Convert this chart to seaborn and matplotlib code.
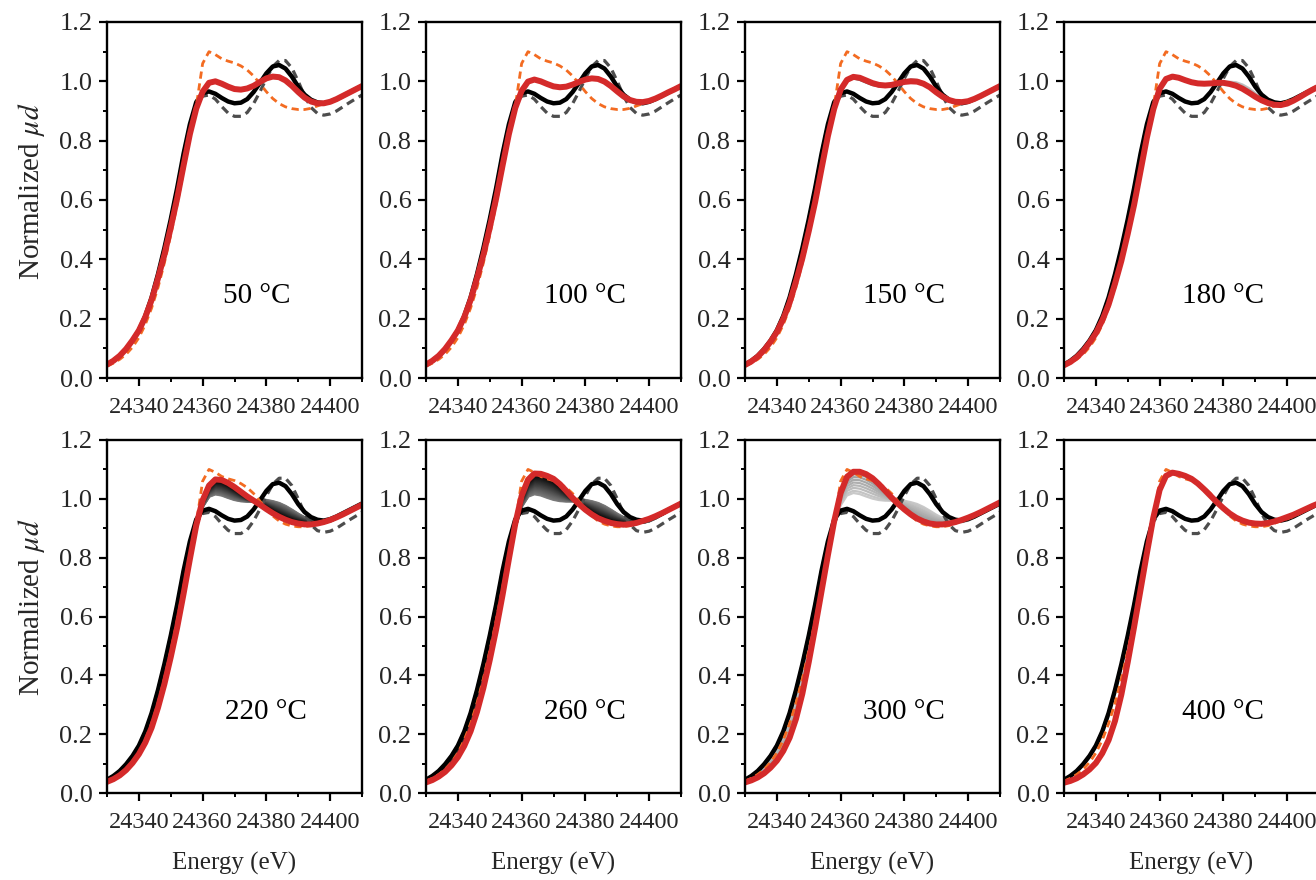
import numpy as np
import pandas as pd
import matplotlib
matplotlib.use("Agg")
import matplotlib.pyplot as plt
import seaborn as sns
from matplotlib.ticker import MultipleLocator, FormatStrFormatter

# ---------------- data ----------------
ENERGY = [24330, 24332, 24334, 24336, 24338, 24340, 24342, 24344, 24346, 24348,
          24350, 24352, 24354, 24356, 24358, 24360, 24362, 24364, 24366, 24368,
          24370, 24372, 24374, 24376, 24378, 24380, 24382, 24384, 24386, 24388,
          24390, 24392, 24394, 24396, 24398, 24400, 24402, 24404, 24406, 24408,
          24410]

BLACK_REF = [0.045, 0.058, 0.075, 0.098, 0.126, 0.161, 0.209, 0.272, 0.350, 0.438,
             0.535, 0.640, 0.755, 0.855, 0.930, 0.960, 0.966, 0.958, 0.944, 0.932,
             0.926, 0.928, 0.940, 0.964, 0.995, 1.027, 1.050, 1.055, 1.043, 1.016,
             0.982, 0.955, 0.938, 0.929, 0.926, 0.931, 0.940, 0.951, 0.962, 0.973,
             0.984]

GRAY_REF = [0.045, 0.058, 0.075, 0.098, 0.126, 0.161, 0.209, 0.272, 0.350, 0.438,
            0.535, 0.640, 0.755, 0.855, 0.922, 0.950, 0.954, 0.940, 0.915, 0.893,
            0.882, 0.882, 0.895, 0.925, 0.965, 1.010, 1.050, 1.070, 1.070, 1.045,
            1.000, 0.950, 0.912, 0.892, 0.886, 0.890, 0.900, 0.914, 0.928, 0.941,
            0.954]

ORANGE_REF = [0.040, 0.050, 0.063, 0.080, 0.104, 0.136, 0.180, 0.236, 0.305, 0.388,
              0.482, 0.585, 0.697, 0.810, 0.915, 1.060, 1.100, 1.090, 1.076, 1.068,
              1.062, 1.052, 1.038, 1.018, 0.992, 0.965, 0.942, 0.925, 0.914, 0.908,
              0.905, 0.905, 0.909, 0.917, 0.925, 0.932, 0.940, 0.951, 0.962, 0.973,
              0.984]

RED_50 = [0.045, 0.058, 0.075, 0.098, 0.127, 0.160, 0.205, 0.263, 0.336, 0.415,
          0.507, 0.605, 0.715, 0.822, 0.908, 0.965, 0.995, 1.000, 0.992, 0.982,
          0.974, 0.972, 0.976, 0.985, 0.998, 1.010, 1.016, 1.014, 1.003, 0.985,
          0.964, 0.945, 0.932, 0.926, 0.926, 0.931, 0.940, 0.951, 0.962, 0.973,
          0.984]

RED_100 = [0.045, 0.058, 0.075, 0.098, 0.127, 0.160, 0.205, 0.263, 0.336, 0.415,
           0.507, 0.605, 0.715, 0.822, 0.910, 0.968, 0.999, 1.006, 1.000, 0.991,
           0.983, 0.980, 0.982, 0.989, 0.998, 1.006, 1.010, 1.008, 0.999, 0.984,
           0.966, 0.949, 0.937, 0.931, 0.930, 0.934, 0.942, 0.952, 0.963, 0.973,
           0.984]

RED_150 = [0.044, 0.056, 0.072, 0.094, 0.122, 0.155, 0.199, 0.254, 0.326, 0.404,
           0.495, 0.593, 0.705, 0.815, 0.907, 0.972, 1.005, 1.015, 1.012, 1.003,
           0.994, 0.988, 0.986, 0.988, 0.993, 0.998, 1.000, 0.999, 0.992, 0.980,
           0.963, 0.948, 0.937, 0.931, 0.930, 0.933, 0.941, 0.951, 0.962, 0.973,
           0.984]

RED_180 = [0.043, 0.054, 0.070, 0.091, 0.119, 0.151, 0.194, 0.248, 0.318, 0.395,
           0.486, 0.584, 0.697, 0.810, 0.906, 0.975, 1.008, 1.016, 1.012, 1.004,
           0.997, 0.993, 0.992, 0.993, 0.995, 0.995, 0.991, 0.985, 0.975, 0.962,
           0.948, 0.936, 0.927, 0.921, 0.920, 0.925, 0.935, 0.947, 0.960, 0.972,
           0.983]

RED_220 = [0.038, 0.047, 0.060, 0.078, 0.102, 0.132, 0.171, 0.222, 0.290, 0.370,
           0.462, 0.562, 0.676, 0.795, 0.910, 0.995, 1.045, 1.066, 1.064, 1.054,
           1.040, 1.024, 1.008, 0.994, 0.980, 0.965, 0.951, 0.939, 0.929, 0.921,
           0.916, 0.913, 0.913, 0.916, 0.921, 0.928, 0.937, 0.947, 0.958, 0.969,
           0.980]

RED_260 = [0.036, 0.044, 0.056, 0.072, 0.094, 0.122, 0.160, 0.210, 0.276, 0.357,
           0.452, 0.556, 0.672, 0.795, 0.915, 1.010, 1.065, 1.086, 1.085, 1.078,
           1.068, 1.050, 1.027, 1.003, 0.982, 0.963, 0.947, 0.934, 0.925, 0.918,
           0.914, 0.912, 0.914, 0.918, 0.925, 0.932, 0.941, 0.951, 0.962, 0.973,
           0.984]

RED_300 = [0.036, 0.043, 0.053, 0.067, 0.086, 0.110, 0.143, 0.188, 0.252, 0.338,
           0.445, 0.562, 0.685, 0.808, 0.925, 1.020, 1.075, 1.092, 1.092, 1.084,
           1.070, 1.050, 1.027, 1.004, 0.983, 0.964, 0.947, 0.933, 0.923, 0.916,
           0.913, 0.913, 0.916, 0.921, 0.928, 0.936, 0.945, 0.955, 0.966, 0.977,
           0.988]

RED_400 = [0.035, 0.041, 0.050, 0.063, 0.080, 0.102, 0.135, 0.180, 0.245, 0.335,
           0.445, 0.565, 0.690, 0.815, 0.935, 1.030, 1.078, 1.089, 1.085, 1.078,
           1.068, 1.052, 1.032, 1.010, 0.988, 0.968, 0.950, 0.936, 0.926, 0.919,
           0.916, 0.915, 0.918, 0.923, 0.930, 0.938, 0.946, 0.956, 0.966, 0.976,
           0.985]

TEMP_LABELS = ["50 °C", "100 °C", "150 °C", "180 °C",
               "220 °C", "260 °C", "300 °C", "400 °C"]

# converted fraction of each intermediate in-situ scan (start -> final spectrum)
F150 = [0.35, 0.70]
F180 = [0.15, 0.35, 0.55, 0.75, 0.90]
F220 = [0.02, 0.05, 0.08, 0.11, 0.14, 0.17, 0.20, 0.24, 0.28, 0.32, 0.36, 0.40,
        0.44, 0.48, 0.52, 0.56, 0.60, 0.64, 0.68, 0.72, 0.76, 0.80, 0.84, 0.88,
        0.92, 0.96]
F260 = [0.02, 0.05, 0.08, 0.11, 0.14, 0.17, 0.20, 0.24, 0.28, 0.32, 0.36, 0.40,
        0.44, 0.48, 0.52, 0.56, 0.60, 0.64, 0.68, 0.72, 0.76, 0.80, 0.84, 0.88,
        0.92, 0.96]
F300 = [0.05, 0.15, 0.28, 0.40, 0.52, 0.64, 0.76, 0.88]

PANELS = [
    (RED_50, None, [], "light"),
    (RED_100, None, [], "light"),
    (RED_150, RED_100, F150, "mid"),
    (RED_180, RED_150, F180, "light"),
    (RED_220, RED_180, F220, "dark"),
    (RED_260, RED_180, F260, "dark"),
    (RED_300, RED_180, F300, "light"),
    (RED_400, None, [], "light"),
]

# ---------------- style ----------------
sns.set_theme(style="ticks")
plt.rcParams['font.family'] = ['Liberation Serif', 'DejaVu Serif']
plt.rcParams['mathtext.fontset'] = 'stix'

W, H = 1316, 880
fig = plt.figure(figsize=(W / 100, H / 100), dpi=100)

col_left = [107, 426, 745, 1064]
pw = 255
rows = [(22, 378), (440, 793)]

RED = '#d42a2a'
ORANGE = '#f36b21'
DGRAY = '#4d4d4d'

E = np.array(ENERGY, dtype=float)

for i, (final, start, fracs, tone) in enumerate(PANELS):
    r, c = divmod(i, 4)
    top, bot = rows[r]
    ax = fig.add_axes([col_left[c] / W, 1 - bot / H, pw / W, (bot - top) / H])

    fin = np.array(final)
    if start is not None:
        st = np.array(start)
        for f in fracs:
            y = (1 - f) * st + f * fin
            if tone == "dark":
                g = 0.50 - 0.50 * f
                col = (g, g, g)
                lw = 2.4
            elif tone == "mid":
                col = (0.40, 0.40, 0.40)
                lw = 1.4
            else:
                g = 0.80 - 0.22 * f
                col = (g, g, g)
                lw = 1.6
            sns.lineplot(x=E, y=y, ax=ax, color=col, lw=lw, estimator=None)

    sns.lineplot(x=E, y=np.array(GRAY_REF), ax=ax, color=DGRAY, lw=2.3,
                 linestyle=(0, (2.6, 1.7)), estimator=None)
    sns.lineplot(x=E, y=np.array(BLACK_REF), ax=ax, color='black', lw=3.2,
                 estimator=None)
    sns.lineplot(x=E, y=np.array(ORANGE_REF), ax=ax, color=ORANGE, lw=2.0,
                 linestyle=(0, (2.6, 1.7)), estimator=None)
    sns.lineplot(x=E, y=fin, ax=ax, color=RED, lw=4.3, estimator=None)

    ax.set_xlim(24330, 24410)
    ax.set_ylim(0, 1.2)
    ax.set_xticks([24340, 24360, 24380, 24400])
    ax.xaxis.set_minor_locator(MultipleLocator(10))
    ax.yaxis.set_major_locator(MultipleLocator(0.2))
    ax.yaxis.set_minor_locator(MultipleLocator(0.1))
    ax.xaxis.set_major_formatter(FormatStrFormatter('%d'))
    ax.yaxis.set_major_formatter(FormatStrFormatter('%.1f'))
    ax.tick_params(axis='both', which='major', direction='out', length=5.5,
                   width=1.6, color='black')
    ax.tick_params(axis='both', which='minor', direction='out', length=3.2,
                   width=1.4, color='black')
    ax.tick_params(axis='x', which='major', labelsize=17.5, pad=8)
    ax.tick_params(axis='y', which='major', labelsize=19, pad=5)
    for sp in ax.spines.values():
        sp.set_visible(True)
        sp.set_linewidth(1.7)
        sp.set_color('black')
    ax.set_facecolor('white')

    if c == 0:
        ax.set_ylabel(r"Normalized $\mu d$", fontsize=21)
        ax.yaxis.set_label_coords(-0.235, 0.525)
    else:
        ax.set_ylabel("")
    if r == 1:
        ax.set_xlabel("Energy (eV)", fontsize=18, labelpad=14)
    else:
        ax.set_xlabel("")

    tx = 24377 if i == 0 else 24380
    ax.text(tx, 0.275, TEMP_LABELS[i], fontsize=21, ha='center', va='center',
            color='black')

fig.savefig("out.png", dpi=100, facecolor='white')
